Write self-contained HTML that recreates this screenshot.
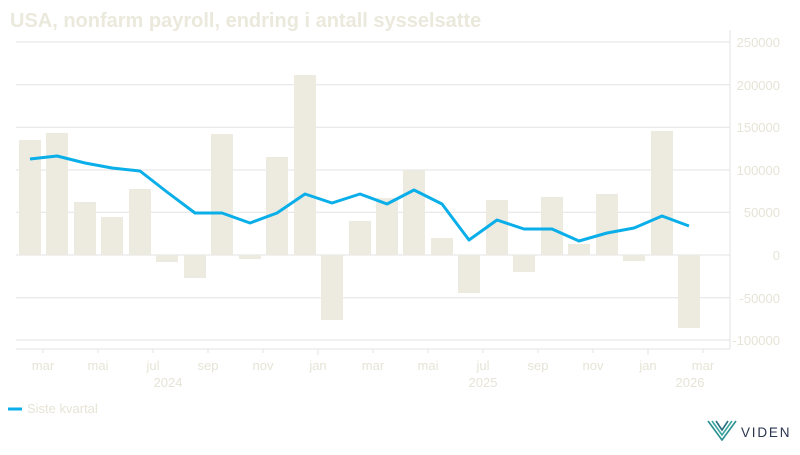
<!DOCTYPE html>
<html><head><meta charset="utf-8"><style>
body{margin:0;background:#fff;width:800px;height:450px;overflow:hidden;font-family:"Liberation Sans",sans-serif}
</style></head><body>
<svg width="800" height="450" xmlns="http://www.w3.org/2000/svg" font-family="Liberation Sans, sans-serif">
<text x="10" y="27" font-size="20" font-weight="bold" fill="#ebe9dc">USA, nonfarm payroll, endring i antall sysselsatte</text>
<g stroke="#e3e3e3" stroke-width="1">
<line x1="16" x2="730" y1="42" y2="42"/><line x1="16" x2="730" y1="84.7" y2="84.7"/><line x1="16" x2="730" y1="127.3" y2="127.3"/><line x1="16" x2="730" y1="170" y2="170"/><line x1="16" x2="730" y1="212.3" y2="212.3"/><line x1="16" x2="730" y1="255" y2="255"/><line x1="16" x2="730" y1="297.7" y2="297.7"/><line x1="16" x2="730" y1="340" y2="340"/>
<line x1="16" x2="730" y1="349" y2="349"/><line x1="730" x2="730" y1="30" y2="349"/>
<line x1="43" x2="43" y1="349" y2="353"/><line x1="98" x2="98" y1="349" y2="353"/><line x1="153" x2="153" y1="349" y2="353"/><line x1="208" x2="208" y1="349" y2="353"/><line x1="263" x2="263" y1="349" y2="353"/><line x1="318" x2="318" y1="349" y2="355"/><line x1="373" x2="373" y1="349" y2="353"/><line x1="428" x2="428" y1="349" y2="353"/><line x1="483" x2="483" y1="349" y2="353"/><line x1="538" x2="538" y1="349" y2="353"/><line x1="593" x2="593" y1="349" y2="353"/><line x1="648" x2="648" y1="349" y2="355"/><line x1="703" x2="703" y1="349" y2="353"/>
</g>
<g fill="#edebe0">
<rect x="19" y="140" width="22" height="115"/><rect x="46" y="133" width="22" height="122"/><rect x="74" y="202" width="22" height="53"/><rect x="101" y="217" width="22" height="38"/><rect x="129" y="189" width="22" height="66"/><rect x="156" y="255" width="22" height="7"/><rect x="184" y="255" width="22" height="23"/><rect x="211" y="134" width="22" height="121"/><rect x="239" y="255" width="22" height="4"/><rect x="266" y="157" width="22" height="98"/><rect x="294" y="75" width="22" height="180"/><rect x="321" y="255" width="22" height="65"/><rect x="349" y="221" width="22" height="34"/><rect x="376" y="198" width="22" height="57"/><rect x="403" y="170" width="22" height="85"/><rect x="431" y="238" width="22" height="17"/><rect x="458" y="255" width="22" height="38"/><rect x="486" y="200" width="22" height="55"/><rect x="513" y="255" width="22" height="17"/><rect x="541" y="197" width="22" height="58"/><rect x="568" y="244" width="22" height="11"/><rect x="596" y="194" width="22" height="61"/><rect x="623" y="255" width="22" height="6"/><rect x="651" y="131" width="22" height="124"/><rect x="678" y="255" width="22" height="73"/>
</g>
<polyline fill="none" stroke="#0aaee8" stroke-width="3" stroke-linejoin="round" points="30,159 57,156 85,163 112,168 140,171 167,192 195,213 222,213 250,223 277,213 305,194 332,203 360,194 387,204 414,190 442,204 469,240 497,220 524,229 552,229 579,241 607,233 634,228 662,216 689,226"/>
<g font-size="13" fill="#e6e4d6" text-anchor="end">
<text x="780" y="47">250000</text><text x="780" y="90">200000</text><text x="780" y="132">150000</text><text x="780" y="175">100000</text><text x="780" y="217">50000</text><text x="780" y="260">0</text><text x="780" y="303">-50000</text><text x="780" y="345">-100000</text>
</g>
<g font-size="13" fill="#e6e4d6" text-anchor="middle">
<text x="43" y="370">mar</text><text x="98" y="370">mai</text><text x="153" y="370">jul</text><text x="208" y="370">sep</text><text x="263" y="370">nov</text><text x="318" y="370">jan</text><text x="373" y="370">mar</text><text x="428" y="370">mai</text><text x="483" y="370">jul</text><text x="538" y="370">sep</text><text x="593" y="370">nov</text><text x="648" y="370">jan</text><text x="703" y="370">mar</text>
<text x="168" y="387">2024</text><text x="483" y="387">2025</text><text x="690" y="387">2026</text>
</g>
<line x1="8" x2="22" y1="409" y2="409" stroke="#0aaee8" stroke-width="3"/>
<text x="27" y="413" font-size="13" fill="#e6e4d6">Siste kvartal</text>
<g fill="none" stroke-width="1.6">
<path d="M708,421 L722,440 L736,421" stroke="#2a8f8f"/>
<path d="M712,421 L722,435 L732,421" stroke="#3aa6a0"/>
<path d="M716,421 L722,430 L728,421" stroke="#2a6f80"/>
</g>
<text x="741" y="437" font-size="13.5" fill="#2a3550" letter-spacing="1.8">VIDEN</text>
</svg>
</body></html>
